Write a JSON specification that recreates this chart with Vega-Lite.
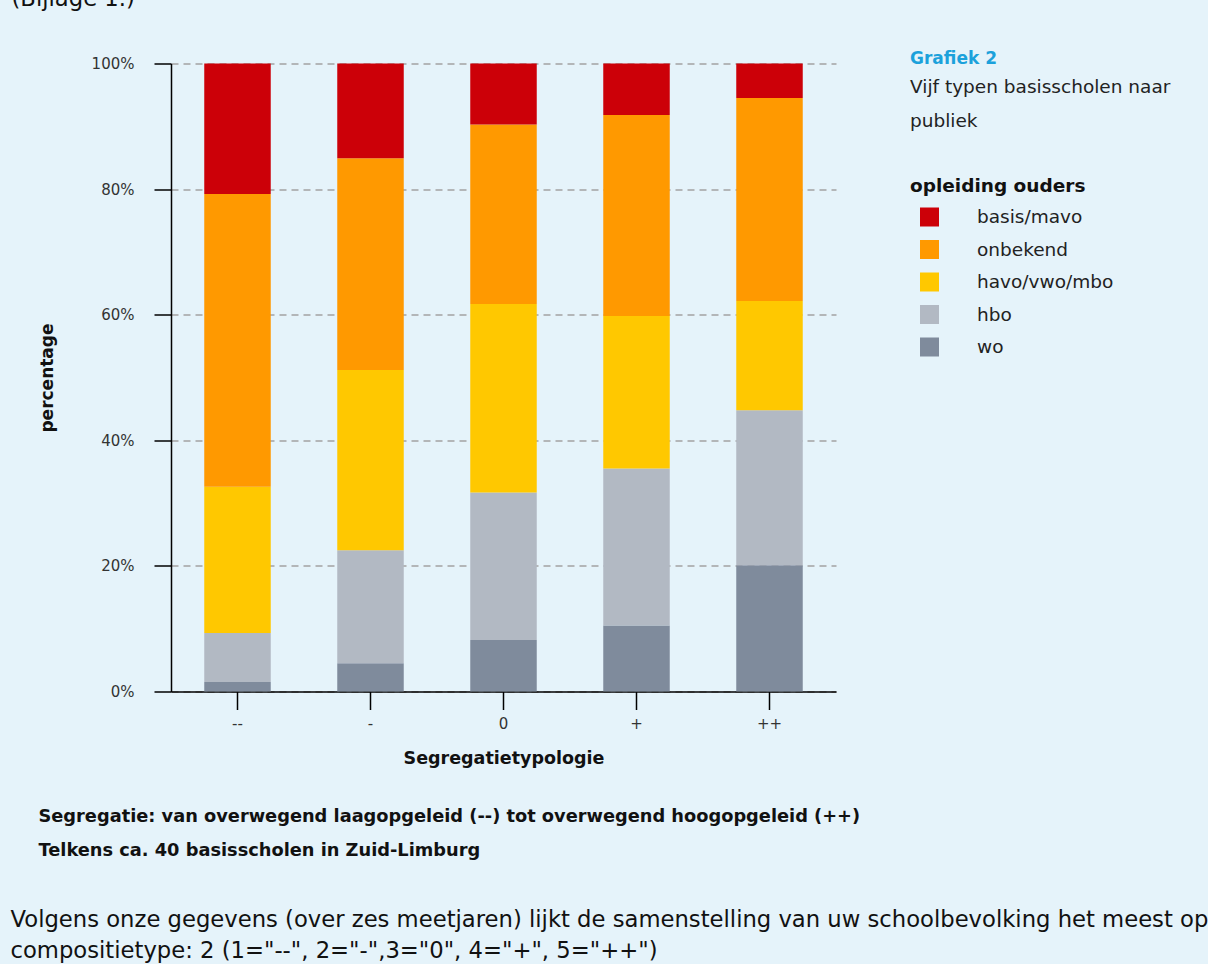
{
  "$schema": "https://vega.github.io/schema/vega-lite/v6.json",
  "autosize": {"type": "none"},
  "width": 665,
  "height": 628,
  "padding": {"left": 171, "top": 63.5, "right": 372, "bottom": 272.5},
  "background": "#E5F3FA",
  "config": {
    "view": {"stroke": null},
    "font": "DejaVu Sans",
    "axis": {"labelFont": "DejaVu Sans", "titleFont": "DejaVu Sans"}
  },
  "title": {
    "text": "Grafiek 2",
    "subtitle": ["Vijf typen basisscholen naar", "publiek"],
    "anchor": "start",
    "frame": "group",
    "dx": 739,
    "dy": 148,
    "font": "DejaVu Sans",
    "fontSize": 17,
    "fontWeight": "bold",
    "color": "#1BA1DB",
    "subtitleFont": "DejaVu Sans",
    "subtitleFontSize": 18.5,
    "subtitleColor": "#222222",
    "subtitleLineHeight": 34,
    "subtitlePadding": 10
  },
  "data": {
    "values": [
      {"type": "--", "opleiding": "wo", "pct": 1.5},
      {"type": "--", "opleiding": "hbo", "pct": 7.8},
      {"type": "--", "opleiding": "havo/vwo/mbo", "pct": 23.3},
      {"type": "--", "opleiding": "onbekend", "pct": 46.6},
      {"type": "--", "opleiding": "basis/mavo", "pct": 20.8},
      {"type": "-", "opleiding": "wo", "pct": 4.5},
      {"type": "-", "opleiding": "hbo", "pct": 18.0},
      {"type": "-", "opleiding": "havo/vwo/mbo", "pct": 28.7},
      {"type": "-", "opleiding": "onbekend", "pct": 33.7},
      {"type": "-", "opleiding": "basis/mavo", "pct": 15.1},
      {"type": "0", "opleiding": "wo", "pct": 8.2},
      {"type": "0", "opleiding": "hbo", "pct": 23.5},
      {"type": "0", "opleiding": "havo/vwo/mbo", "pct": 30.0},
      {"type": "0", "opleiding": "onbekend", "pct": 28.6},
      {"type": "0", "opleiding": "basis/mavo", "pct": 9.7},
      {"type": "+", "opleiding": "wo", "pct": 10.5},
      {"type": "+", "opleiding": "hbo", "pct": 25.0},
      {"type": "+", "opleiding": "havo/vwo/mbo", "pct": 24.3},
      {"type": "+", "opleiding": "onbekend", "pct": 32.0},
      {"type": "+", "opleiding": "basis/mavo", "pct": 8.2},
      {"type": "++", "opleiding": "wo", "pct": 20.1},
      {"type": "++", "opleiding": "hbo", "pct": 24.7},
      {"type": "++", "opleiding": "havo/vwo/mbo", "pct": 17.4},
      {"type": "++", "opleiding": "onbekend", "pct": 32.3},
      {"type": "++", "opleiding": "basis/mavo", "pct": 5.5}
    ]
  },
  "layer": [
    {
      "transform": [
        {"calculate": "indexof(['wo', 'hbo', 'havo/vwo/mbo', 'onbekend', 'basis/mavo'], datum.opleiding)", "as": "stapel"}
      ],
      "mark": {"type": "bar"},
      "encoding": {
        "x": {
          "field": "type",
          "type": "nominal",
          "sort": ["--", "-", "0", "+", "++"],
          "scale": {"paddingInner": 0.5, "paddingOuter": 0.25},
          "axis": {
            "title": "Segregatietypologie",
            "labelAngle": 0,
            "labelFontSize": 15,
            "labelColor": "#333333",
            "labelPadding": 7,
            "tickSize": 18,
            "tickColor": "#000000",
            "tickWidth": 1.5,
            "domainColor": "#000000",
            "domainWidth": 1.5,
            "grid": false,
            "titleFontSize": 17.5,
            "titleFontWeight": "bold",
            "titleColor": "#111111",
            "titleX": 332.5,
            "titleY": 66.5,
            "titleBaseline": "middle",
            "titleAlign": "center"
          }
        },
        "y": {
          "field": "pct",
          "type": "quantitative",
          "stack": "zero",
          "scale": {"domain": [0, 100], "nice": false},
          "axis": {
            "title": "percentage",
            "values": [0, 20, 40, 60, 80, 100],
            "labelExpr": "datum.value + '%'",
            "labelFontSize": 15,
            "labelColor": "#333333",
            "labelPadding": 20,
            "tickSize": 17,
            "tickColor": "#000000",
            "tickWidth": 1.5,
            "domainColor": "#000000",
            "domainWidth": 1.5,
            "grid": true,
            "gridColor": "#A3A3A3",
            "gridDash": [7, 5],
            "gridWidth": 1.5,
            "titleFontSize": 17,
            "titleFontWeight": "bold",
            "titleColor": "#111111",
            "titleAngle": 270,
            "titleX": -124,
            "titleY": 314,
            "titleBaseline": "middle",
            "titleAlign": "center"
          }
        },
        "order": {"field": "stapel", "type": "quantitative", "sort": "ascending"},
        "color": {
          "field": "opleiding",
          "type": "nominal",
          "sort": ["basis/mavo", "onbekend", "havo/vwo/mbo", "hbo", "wo"],
          "scale": {
            "domain": ["basis/mavo", "onbekend", "havo/vwo/mbo", "hbo", "wo"],
            "range": ["#CC0008", "#FF9900", "#FFC800", "#B2B9C3", "#7F8B9C"]
          },
          "legend": {
            "title": "opleiding ouders",
            "orient": "none",
            "legendX": 739,
            "legendY": 113.5,
            "padding": 0,
            "titleFont": "DejaVu Sans",
            "titleFontSize": 18.5,
            "titleFontWeight": "bold",
            "titleColor": "#111111",
            "titlePadding": 12,
            "labelFont": "DejaVu Sans",
            "labelFontSize": 18.5,
            "labelColor": "#222222",
            "labelOffset": 38,
            "labelLimit": 400,
            "symbolType": "square",
            "symbolSize": 361,
            "symbolStrokeWidth": 0,
            "symbolOpacity": 1,
            "symbolOffset": 10,
            "rowPadding": 13.5
          }
        }
      }
    },
    {
      "data": {"values": [{"k": 0}]},
      "mark": {"type": "point", "opacity": 0},
      "encoding": {
        "x": {
          "field": "k",
          "type": "quantitative",
          "axis": {
            "orient": "bottom",
            "labels": false,
            "ticks": false,
            "domain": false,
            "grid": false,
            "title": ["Segregatie: van overwegend laagopgeleid (--) tot overwegend hoogopgeleid (++)", "Telkens ca. 40 basisscholen in Zuid-Limburg"],
            "titleFontSize": 17.8,
            "titleFontWeight": "bold",
            "titleColor": "#111111",
            "titleAlign": "left",
            "titleBaseline": "alphabetic",
            "titleLineHeight": 34,
            "titleLimit": 2000,
            "titleX": -133,
            "titleY": 129.5
          }
        },
        "y": {
          "field": "k",
          "type": "quantitative",
          "axis": {
            "orient": "right",
            "labels": false,
            "ticks": false,
            "domain": false,
            "grid": false,
            "title": ["Volgens onze gegevens (over zes meetjaren) lijkt de samenstelling van uw schoolbevolking het meest op", "compositietype: 2 (1=\"--\", 2=\"-\",3=\"0\", 4=\"+\", 5=\"++\")"],
            "titleAngle": 0,
            "titleFontSize": 22.7,
            "titleFontWeight": "normal",
            "titleColor": "#111111",
            "titleAlign": "left",
            "titleBaseline": "alphabetic",
            "titleLineHeight": 31,
            "titleLimit": 2000,
            "titleX": -826,
            "titleY": 862.5
          }
        }
      }
    },
    {
      "data": {"values": [{"k": 0}]},
      "mark": {"type": "point", "opacity": 0},
      "encoding": {
        "x": {
          "field": "k",
          "type": "quantitative",
          "axis": {
            "orient": "top",
            "labels": false,
            "ticks": false,
            "domain": false,
            "grid": false,
            "title": "(Bijlage 1.)",
            "titleFontSize": 22.7,
            "titleFontWeight": "normal",
            "titleColor": "#111111",
            "titleAlign": "left",
            "titleBaseline": "alphabetic",
            "titleLimit": 2000,
            "titleX": -160,
            "titleY": -58.5
          }
        },
        "y": {
          "field": "k",
          "type": "quantitative",
          "axis": null
        }
      }
    }
  ],
  "resolve": {"scale": {"x": "independent", "y": "independent"}}
}
